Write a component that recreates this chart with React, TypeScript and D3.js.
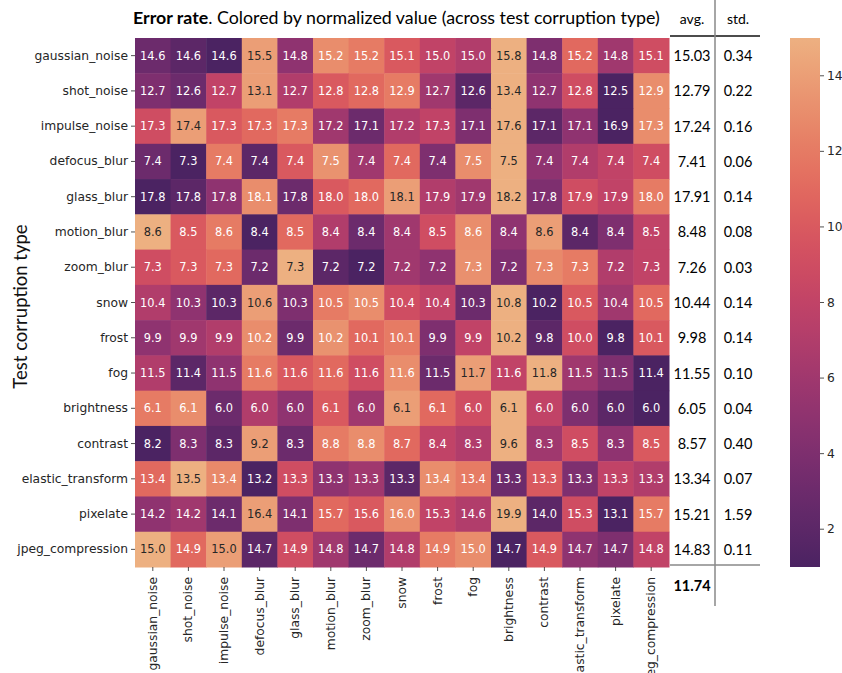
import React from "react";
import * as d3 from "d3";

const corruptions = [
  "gaussian_noise", "shot_noise", "impulse_noise", "defocus_blur", "glass_blur",
  "motion_blur", "zoom_blur", "snow", "frost", "fog", "brightness", "contrast",
  "elastic_transform", "pixelate", "jpeg_compression",
];

// Error rate (%) : rows = test corruption, columns = train corruption
const errorRates = [
  [14.6, 14.6, 14.6, 15.5, 14.8, 15.2, 15.2, 15.1, 15.0, 15.0, 15.8, 14.8, 15.2, 14.8, 15.1],
  [12.7, 12.6, 12.7, 13.1, 12.7, 12.8, 12.8, 12.9, 12.7, 12.6, 13.4, 12.7, 12.8, 12.5, 12.9],
  [17.3, 17.4, 17.3, 17.3, 17.3, 17.2, 17.1, 17.2, 17.3, 17.1, 17.6, 17.1, 17.1, 16.9, 17.3],
  [7.4, 7.3, 7.4, 7.4, 7.4, 7.5, 7.4, 7.4, 7.4, 7.5, 7.5, 7.4, 7.4, 7.4, 7.4],
  [17.8, 17.8, 17.8, 18.1, 17.8, 18.0, 18.0, 18.1, 17.9, 17.9, 18.2, 17.8, 17.9, 17.9, 18.0],
  [8.6, 8.5, 8.6, 8.4, 8.5, 8.4, 8.4, 8.4, 8.5, 8.6, 8.4, 8.6, 8.4, 8.4, 8.5],
  [7.3, 7.3, 7.3, 7.2, 7.3, 7.2, 7.2, 7.2, 7.2, 7.3, 7.2, 7.3, 7.3, 7.2, 7.3],
  [10.4, 10.3, 10.3, 10.6, 10.3, 10.5, 10.5, 10.4, 10.4, 10.3, 10.8, 10.2, 10.5, 10.4, 10.5],
  [9.9, 9.9, 9.9, 10.2, 9.9, 10.2, 10.1, 10.1, 9.9, 9.9, 10.2, 9.8, 10.0, 9.8, 10.1],
  [11.5, 11.4, 11.5, 11.6, 11.6, 11.6, 11.6, 11.6, 11.5, 11.7, 11.6, 11.8, 11.5, 11.5, 11.4],
  [6.1, 6.1, 6.0, 6.0, 6.0, 6.1, 6.0, 6.1, 6.1, 6.0, 6.1, 6.0, 6.0, 6.0, 6.0],
  [8.2, 8.3, 8.3, 9.2, 8.3, 8.8, 8.8, 8.7, 8.4, 8.3, 9.6, 8.3, 8.5, 8.3, 8.5],
  [13.4, 13.5, 13.4, 13.2, 13.3, 13.3, 13.3, 13.3, 13.4, 13.4, 13.3, 13.3, 13.3, 13.3, 13.3],
  [14.2, 14.2, 14.1, 16.4, 14.1, 15.7, 15.6, 16.0, 15.3, 14.6, 19.9, 14.0, 15.3, 13.1, 15.7],
  [15.0, 14.9, 15.0, 14.7, 14.9, 14.8, 14.7, 14.8, 14.9, 15.0, 14.7, 14.9, 14.7, 14.7, 14.8],
];

// Normalized value (rank within each test corruption row)
const normalized = [
  [3, 2, 1, 14, 5, 13, 12, 10, 8, 7, 15, 4, 11, 6, 9],
  [4, 3, 8, 14, 7, 10, 11, 12, 6, 2, 15, 5, 9, 1, 13],
  [9, 14, 10, 11, 12, 6, 3, 7, 8, 4, 15, 2, 5, 1, 13],
  [3, 1, 12, 2, 10, 13.3, 6, 11, 4, 13, 15, 5, 7, 8, 9],
  [1, 2, 5, 13, 3, 10, 11, 14, 7, 6, 15, 4, 9, 8, 12],
  [15, 10, 12, 1, 11, 7, 3, 6, 9, 13, 5, 14, 2, 4, 8],
  [9, 10, 11, 3, 15, 2, 1, 6, 5, 13.2, 4, 12.8, 12, 7, 8],
  [7, 5, 2, 14, 4, 12, 13, 9, 8, 3, 15, 1, 10, 6, 11],
  [5, 6, 7, 13, 3, 13.3, 11, 12, 4, 8, 15, 2, 9, 1, 10],
  [7, 2, 5, 12, 10, 11, 9, 13, 3, 14, 8, 15, 6, 4, 1],
  [12, 13, 3, 7, 5, 10, 6, 14, 11, 9, 15, 8, 4, 2, 1],
  [1, 4, 2, 14, 3, 12, 13, 11, 8, 7, 15, 6, 9, 5, 10],
  [11, 15, 12.8, 1, 9, 5, 6, 2, 13, 12, 3, 10, 4, 8, 7],
  [5, 6, 3, 14, 4, 11, 10, 13, 8, 7, 15, 2, 9, 1, 12],
  [15, 11, 14, 2, 9, 6, 3, 7, 12, 13, 1, 10, 5, 4, 8],
];

const rowAvg = ["15.03", "12.79", "17.24", "7.41", "17.91", "8.48", "7.26", "10.44", "9.98", "11.55", "6.05", "8.57", "13.34", "15.21", "14.83"];
const rowStd = ["0.34", "0.22", "0.16", "0.06", "0.14", "0.08", "0.03", "0.14", "0.14", "0.10", "0.04", "0.40", "0.07", "1.59", "0.11"];
const overallAvg = "11.74";
const colorbarTicks = [2, 4, 6, 8, 10, 12, 14];

// seaborn "flare" stops (light -> dark); reversed so low = dark
const flareStops = ["#edb081", "#e98d6b", "#e3685c", "#d14a61", "#b13c6c", "#8f3371", "#6c2b6d", "#4b2362"];

const W = 842, H = 673;
const hmLeft = 135, hmRight = 669, hmTop = 38, hmBottom = 567;
const sansFont = "'DejaVu Sans', sans-serif";
const tableFont = "Lato, 'Open Sans', sans-serif";

function textColor(fill: string) {
  const c = d3.rgb(fill);
  const lin = (v: number) => {
    const s = v / 255;
    return s <= 0.03928 ? s / 12.92 : Math.pow((s + 0.055) / 1.055, 2.4);
  };
  const L = 0.2126 * lin(c.r) + 0.7152 * lin(c.g) + 0.0722 * lin(c.b);
  return L > 0.408 ? "#262626" : "#ffffff";
}

export default function App() {
  const x = d3.scaleBand<string>().domain(corruptions).range([hmLeft, hmRight]);
  const y = d3.scaleBand<string>().domain(corruptions).range([hmTop, hmBottom]);
  const interp = d3.interpolateRgbBasis([...flareStops].reverse());
  const color = d3.scaleSequential(interp).domain([1, 15]);
  const cbY = d3.scaleLinear().domain([1, 15]).range([hmBottom, hmTop]);
  const cbX = 790, cbW = 30;
  const gradStops = d3.range(0, 1.0001, 0.05);

  return (
    <svg width={W} height={H} style={{ position: "absolute", left: 0, top: 0, background: "#fff" }}>
      <defs>
        <linearGradient id="cbgrad" x1="0" y1="1" x2="0" y2="0">
          {gradStops.map((t) => (
            <stop key={t} offset={t} stopColor={interp(t)} />
          ))}
        </linearGradient>
      </defs>

      {/* title */}
      <text x={133} y={24} fontFamily={tableFont} fontSize={17.8} fill="#000">
        <tspan fontWeight="bold">Error rate</tspan>
        <tspan>. Colored by normalized value (across test corruption type)</tspan>
      </text>

      {/* cells */}
      {errorRates.map((row, i) =>
        row.map((v, j) => {
          const fill = color(normalized[i][j]);
          return (
            <g key={`${i}-${j}`}>
              <rect
                x={x(corruptions[j])}
                y={y(corruptions[i])}
                width={x.bandwidth() + 0.5}
                height={y.bandwidth() + 0.5}
                fill={fill}
              />
              <text
                x={(x(corruptions[j]) as number) + x.bandwidth() / 2}
                y={(y(corruptions[i]) as number) + y.bandwidth() / 2}
                textAnchor="middle"
                dominantBaseline="central"
                fontFamily={sansFont}
                fontSize={11.4}
                fill={textColor(fill)}
              >
                {v.toFixed(1)}
              </text>
            </g>
          );
        })
      )}

      {/* y axis ticks */}
      {corruptions.map((c) => {
        const cy = (y(c) as number) + y.bandwidth() / 2;
        return (
          <g key={`y-${c}`}>
            <line x1={hmLeft - 4} x2={hmLeft} y1={cy} y2={cy} stroke="#262626" strokeWidth={0.8} />
            <text x={hmLeft - 7} y={cy} textAnchor="end" dominantBaseline="central" fontFamily={sansFont} fontSize={12.3} fill="#262626">
              {c}
            </text>
          </g>
        );
      })}

      {/* x axis ticks */}
      {corruptions.map((c) => {
        const cx = (x(c) as number) + x.bandwidth() / 2;
        return (
          <g key={`x-${c}`}>
            <line x1={cx} x2={cx} y1={hmBottom} y2={hmBottom + 4} stroke="#262626" strokeWidth={0.8} />
            <text
              transform={`translate(${cx},${hmBottom + 10}) rotate(-90)`}
              textAnchor="end"
              dominantBaseline="central"
              fontFamily={sansFont}
              fontSize={12.3}
              fill="#262626"
            >
              {c}
            </text>
          </g>
        );
      })}

      {/* y axis title */}
      <text
        transform={`translate(27,${(hmTop + hmBottom) / 2 + 4}) rotate(-90)`}
        textAnchor="middle"
        fontFamily={tableFont}
        fontSize={18.5}
        fill="#111"
      >
        Test corruption type
      </text>

      {/* avg / std table */}
      <text x={692} y={24} textAnchor="middle" fontFamily={tableFont} fontSize={14} fill="#000">avg.</text>
      <text x={738} y={24} textAnchor="middle" fontFamily={tableFont} fontSize={14} fill="#000">std.</text>
      <line x1={670} x2={760} y1={36} y2={36} stroke="#111" strokeWidth={1.3} />
      <line x1={715} x2={715} y1={0} y2={606} stroke="#888" strokeWidth={1.5} />
      <line x1={670} x2={760} y1={565} y2={565} stroke="#888" strokeWidth={1.3} />
      {corruptions.map((c, i) => {
        const cy = (y(c) as number) + y.bandwidth() / 2;
        return (
          <g key={`t-${c}`}>
            <text x={692} y={cy} textAnchor="middle" dominantBaseline="central" fontFamily={tableFont} fontSize={14.5} fill="#000">
              {rowAvg[i]}
            </text>
            <text x={738} y={cy} textAnchor="middle" dominantBaseline="central" fontFamily={tableFont} fontSize={14.5} fill="#000">
              {rowStd[i]}
            </text>
          </g>
        );
      })}
      <text x={692} y={585} textAnchor="middle" dominantBaseline="central" fontFamily={tableFont} fontSize={14.5} fontWeight="bold" fill="#000">
        {overallAvg}
      </text>

      {/* colorbar */}
      <rect x={cbX} y={hmTop} width={cbW} height={hmBottom - hmTop} fill="url(#cbgrad)" />
      {colorbarTicks.map((t) => (
        <g key={`cb-${t}`}>
          <line x1={cbX + cbW} x2={cbX + cbW + 4} y1={cbY(t)} y2={cbY(t)} stroke="#262626" strokeWidth={0.8} />
          <text x={cbX + cbW + 7} y={cbY(t)} dominantBaseline="central" fontFamily={sansFont} fontSize={12.3} fill="#262626">
            {t}
          </text>
        </g>
      ))}
    </svg>
  );
}
